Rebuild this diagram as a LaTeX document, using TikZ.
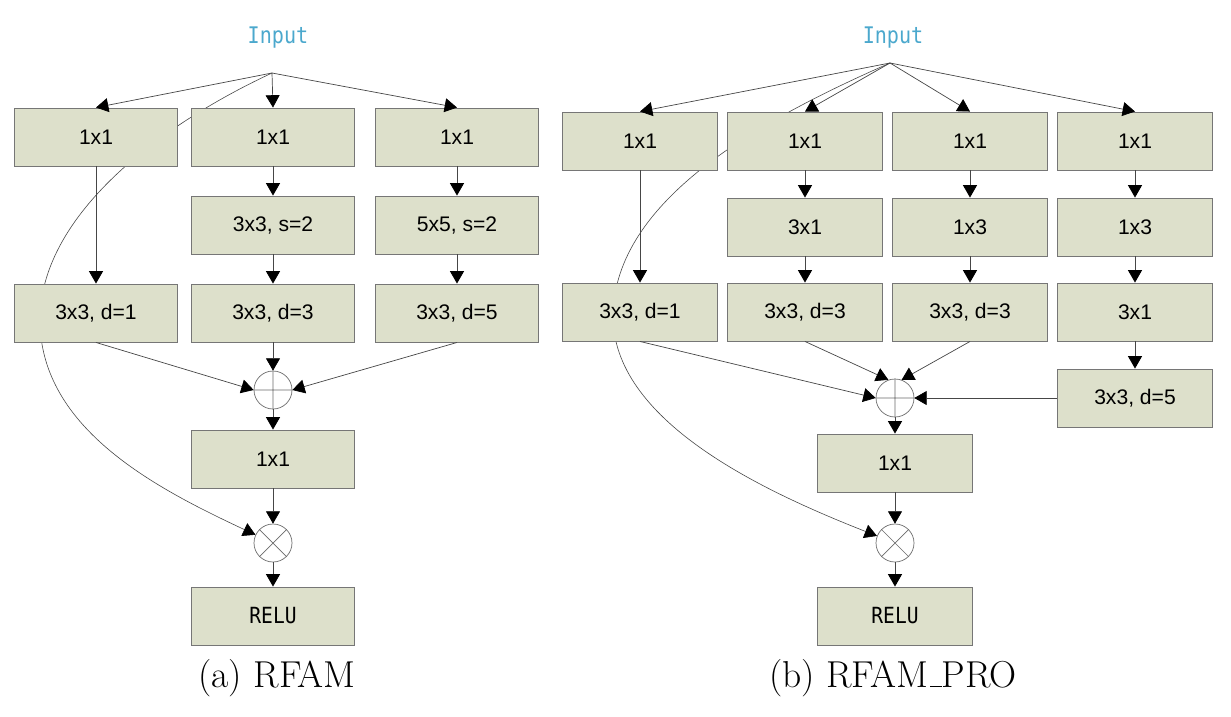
\documentclass[tikz,border=0pt]{standalone}
\usepackage{fontspec}
\setsansfont{Liberation Sans}
\newfontfamily\inputfont[FakeStretch=0.88]{DejaVu Sans Mono}
\usetikzlibrary{arrows.meta,backgrounds}

\definecolor{blkfill}{RGB}{221,224,203}
\definecolor{blkline}{RGB}{118,118,118}
\definecolor{inputblue}{RGB}{75,168,205}
\definecolor{flowline}{RGB}{70,70,70}

\tikzset{
  blk/.style={draw=blkline, line width=0.8pt, fill=blkfill,
    minimum width=48.9mm, minimum height=17.4mm, inner sep=0pt,
    font=\sffamily\fontsize{18}{21}\selectfont},
  blkr/.style={blk, minimum width=46.5mm},
  relublk/.style={font=\inputfont\fontsize{19}{22}\selectfont},
  inlabel/.style={text=inputblue, font=\inputfont\fontsize{19.5}{22}\selectfont},
  opnode/.style={circle, draw=flowline!80, line width=0.6pt, fill=white,
    minimum size=11.4mm, inner sep=0pt},
  flow/.style={draw=flowline, line width=0.6pt,
    -{Triangle[length=3.7mm,width=4.2mm,color=black]}},
  skip/.style={flow, line width=0.5pt},
  caption/.style={font=\fontsize{32}{36}\selectfont},
}

\begin{document}
\begin{tikzpicture}[x=0.3mm, y=-0.3mm]
  \useasboundingbox (0, 0) rectangle (1231, 716);

  % (a) RFAM
  \node[inlabel] (inA) at (278, 38) {Input};
  \coordinate (forkA) at (272, 73);

  \node[blk] (a11) at (96, 137) {1x1};
  \node[blk] (a12) at (273, 137) {1x1};
  \node[blk] (a13) at (457, 137) {1x1};
  \node[blk] (a22) at (273, 225) {3x3, s=2};
  \node[blk] (a23) at (457, 225) {5x5, s=2};
  \node[blk] (a31) at (96, 313) {3x3, d=1};
  \node[blk] (a32) at (273, 313) {3x3, d=3};
  \node[blk] (a33) at (457, 313) {3x3, d=5};
  \node[opnode] (plusA) at (273, 390) {};
  \node[blk] (a4) at (273, 459) {1x1};
  \node[opnode] (timesA) at (273, 543) {};
  \node[blk, relublk] (reluA) at (273, 616) {RELU};
  \node[caption] (capA) at (277, 678) {(a) RFAM};

  \draw[flow] (forkA) -- (a11.north);
  \draw[flow] (forkA) -- (a12.north);
  \draw[flow] (forkA) -- (a13.north);
  \draw[flow] (a11) -- (a31);
  \draw[flow] (a12) -- (a22);
  \draw[flow] (a22) -- (a32);
  \draw[flow] (a13) -- (a23);
  \draw[flow] (a23) -- (a33);
  \draw[flow] (a31.south) -- (plusA.west);
  \draw[flow] (a32) -- (plusA);
  \draw[flow] (a33.south) -- (plusA.east);
  \draw[flow] (plusA) -- (a4);
  \draw[flow] (a4) -- (timesA);
  \draw[flow] (timesA) -- (reluA);

  \draw[flowline!80, line width=0.6pt]
    (plusA.north) -- (plusA.south) (plusA.west) -- (plusA.east)
    (timesA.north west) -- (timesA.south east)
    (timesA.north east) -- (timesA.south west);

  \begin{pgfonlayer}{background}
    \draw[skip] (forkA) .. controls (150, 130) and (40, 220) .. (40, 320)
      .. controls (40, 430) and (160, 490) .. (timesA);
  \end{pgfonlayer}

  % (b) RFAM_PRO
  \node[inlabel] (inB) at (893, 38) {Input};
  \coordinate (forkB) at (890, 63);

  \node[blkr] (b11) at (640, 141) {1x1};
  \node[blkr] (b12) at (805, 141) {1x1};
  \node[blkr] (b13) at (970, 141) {1x1};
  \node[blkr] (b14) at (1135, 141) {1x1};
  \node[blkr] (b22) at (805, 227) {3x1};
  \node[blkr] (b23) at (970, 227) {1x3};
  \node[blkr] (b24) at (1135, 227) {1x3};
  \node[blkr] (b31) at (640, 312) {3x3, d=1};
  \node[blkr] (b32) at (805, 312) {3x3, d=3};
  \node[blkr] (b33) at (970, 312) {3x3, d=3};
  \node[blkr] (b34) at (1135, 312) {3x1};
  \node[blkr] (b45) at (1135, 398) {3x3, d=5};
  \node[opnode] (plusB) at (895, 398) {};
  \node[blkr] (b5) at (895, 463) {1x1};
  \node[opnode] (timesB) at (895, 543) {};
  \node[blkr, relublk] (reluB) at (895, 616) {RELU};
  \node[caption] (capB) at (893, 678)
    {(b) RFAM\kern.06em\rule{.3em}{.04em}PRO};

  \draw[flow] (forkB) -- (b11.north);
  \draw[flow] (forkB) -- (b12.north);
  \draw[flow] (forkB) -- (b13.north);
  \draw[flow] (forkB) -- (b14.north);
  \draw[flow] (b11) -- (b31);
  \draw[flow] (b12) -- (b22);
  \draw[flow] (b22) -- (b32);
  \draw[flow] (b13) -- (b23);
  \draw[flow] (b23) -- (b33);
  \draw[flow] (b14) -- (b24);
  \draw[flow] (b24) -- (b34);
  \draw[flow] (b34) -- (b45);
  \draw[flow] (b31.south) -- (plusB.west);
  \draw[flow] (b32.south) -- (plusB.110);
  \draw[flow] (b33.south) -- (plusB.70);
  \draw[flow] (b45) -- (plusB);
  \draw[flow] (plusB) -- (b5);
  \draw[flow] (b5) -- (timesB);
  \draw[flow] (timesB) -- (reluB);

  \draw[flowline!80, line width=0.6pt]
    (plusB.north) -- (plusB.south) (plusB.west) -- (plusB.east)
    (timesB.north west) -- (timesB.south east)
    (timesB.north east) -- (timesB.south west);

  \begin{pgfonlayer}{background}
    \draw[skip] (forkB) .. controls (760, 120) and (615, 200) .. (613, 315)
      .. controls (612, 420) and (760, 490) .. (timesB);
  \end{pgfonlayer}
\end{tikzpicture}
\end{document}
